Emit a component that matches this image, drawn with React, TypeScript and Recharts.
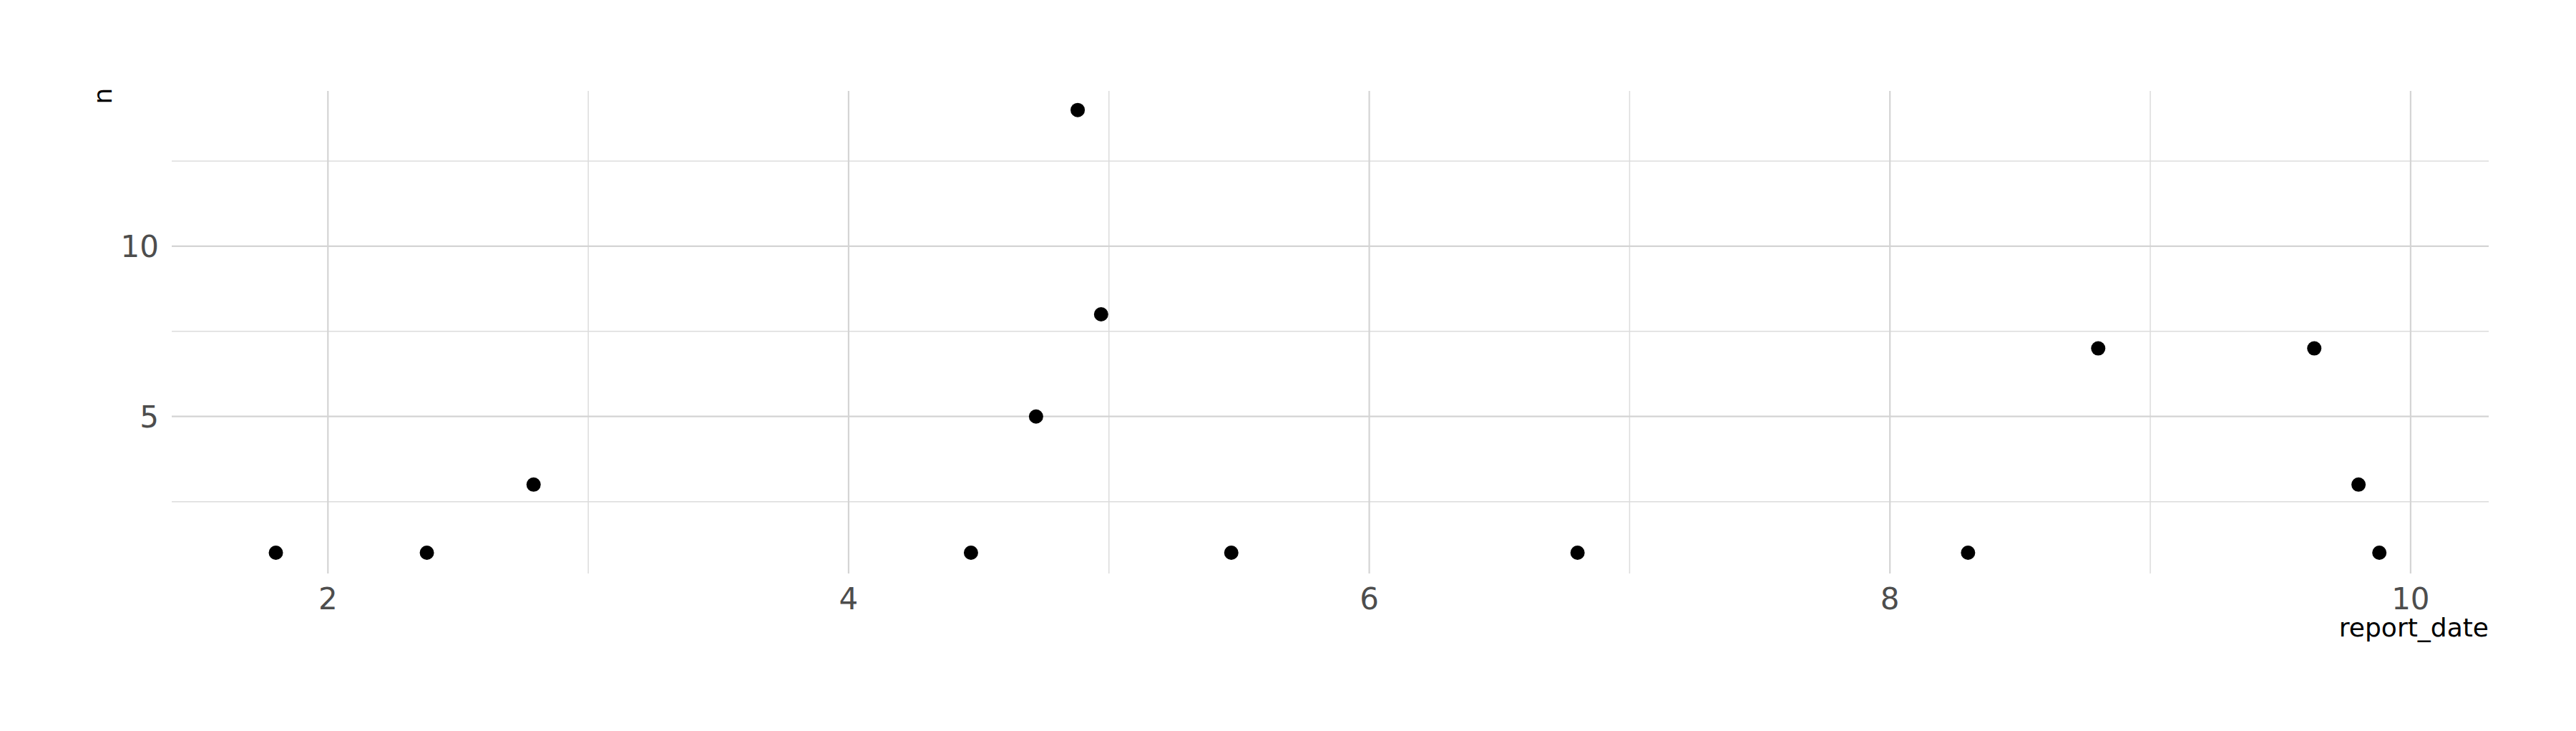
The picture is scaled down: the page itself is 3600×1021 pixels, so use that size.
import { ScatterChart, Scatter, XAxis, YAxis, ReferenceLine } from 'recharts'

const reportDate = [1.8, 2.38, 2.79, 4.47, 4.72, 4.88, 4.97, 5.47, 6.8, 8.3, 8.8, 9.63, 9.8, 9.88]
const counts = [1, 1, 3, 1, 5, 14, 8, 1, 1, 1, 7, 7, 3, 1]
const xMajor = [2, 4, 6, 8, 10]
const xMinor = [3, 5, 7, 9]
const yMajor = [5, 10]
const yMinor = [2.5, 7.5, 12.5]

const data = reportDate.map((x, i) => ({ x, y: counts[i] }))
const FONT = '"DejaVu Sans", sans-serif'

const Dot = (p: any) => <circle cx={p.cx} cy={p.cy} r={10} fill="#000" />

export default function App() {
  return (
    <div style={{ position: 'relative', width: 3600, height: 1021, margin: -8, fontFamily: FONT }}>
      <ScatterChart width={3600} height={1021} margin={{ top: 127, right: 122, left: 140, bottom: 160 }}>
        <XAxis
          type="number"
          dataKey="x"
          domain={[1.4, 10.3]}
          ticks={xMajor}
          allowDataOverflow
          axisLine={false}
          tickLine={false}
          height={60}
          tick={{ fontSize: 42, fill: '#4d4d4d', fontFamily: FONT }}
          tickMargin={14}
        />
        <YAxis
          type="number"
          dataKey="y"
          domain={[0.39, 14.56]}
          ticks={yMajor}
          allowDataOverflow
          axisLine={false}
          tickLine={false}
          width={100}
          tick={{ fontSize: 42, fill: '#4d4d4d', fontFamily: FONT }}
          tickMargin={12}
        />
        {yMinor.map(v => <ReferenceLine key={'ym' + v} y={v} stroke="#dcdcdc" strokeWidth={1.5} />)}
        {xMinor.map(v => <ReferenceLine key={'xm' + v} x={v} stroke="#dcdcdc" strokeWidth={1.5} />)}
        {yMajor.map(v => <ReferenceLine key={'y' + v} y={v} stroke="#d4d4d4" strokeWidth={2.2} />)}
        {xMajor.map(v => <ReferenceLine key={'x' + v} x={v} stroke="#d4d4d4" strokeWidth={2.2} />)}
        <Scatter data={data} shape={Dot} isAnimationActive={false} />
      </ScatterChart>
      <div style={{ position: 'absolute', left: 143, top: 134, transform: 'translate(-50%,-50%) rotate(-90deg)', fontSize: 36, color: '#000' }}>n</div>
      <div style={{ position: 'absolute', right: 122, top: 856, fontSize: 36, color: '#000' }}>report_date</div>
    </div>
  )
}
